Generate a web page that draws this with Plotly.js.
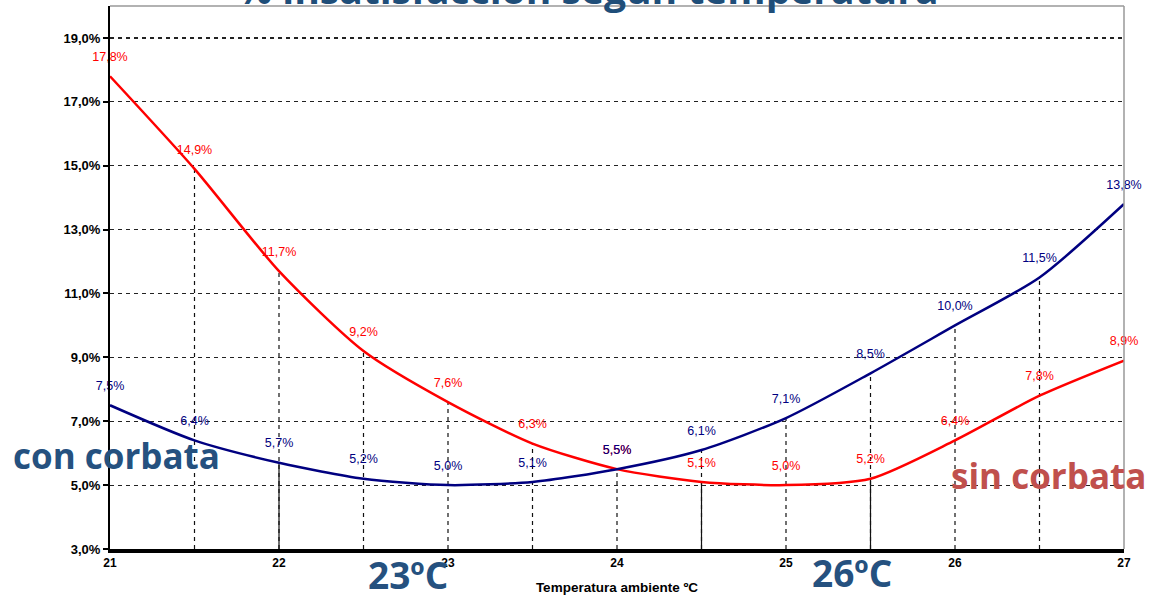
<!DOCTYPE html>
<html>
<head>
<meta charset="utf-8">
<script src="https://cdn.plot.ly/plotly-3.0.1.min.js"></script>
<style>html,body{margin:0;padding:0;background:#fff;}#chart{width:1153px;height:599px;}</style>
</head>
<body>
<div id="chart"></div>
<script>
// Data
var temperaturas = [21, 21.5, 22, 22.5, 23, 23.5, 24, 24.5, 25, 25.5, 26, 26.5, 27];
var sinCorbata   = [17.8, 14.9, 11.7, 9.2, 7.6, 6.3, 5.5, 5.1, 5.0, 5.2, 6.4, 7.8, 8.9];
var conCorbata   = [7.5, 6.4, 5.7, 5.2, 5.0, 5.1, 5.5, 6.1, 7.1, 8.5, 10.0, 11.5, 13.8];
var yTickVals    = [3, 5, 7, 9, 11, 13, 15, 17, 19];
var yTickText    = ["3,0%", "5,0%", "7,0%", "9,0%", "11,0%", "13,0%", "15,0%", "17,0%", "19,0%"];
var xTickVals    = [21, 22, 23, 24, 25, 26, 27];
var solidDropX   = [22, 24.5, 25.5];

function fmt(v) { return v.toFixed(1).replace('.', ',') + '%'; }

var L = 110, R = 1124, T = 6, B = 549;
function px(x) { return (x - L) / (R - L); }
function py(y) { return (B - y) / (B - T); }

var labelFont = 'Liberation Sans, Arial, sans-serif';
var traces = [
  {
    x: temperaturas, y: sinCorbata, mode: 'lines+markers+text', type: 'scatter',
    line: {color: '#FF0000', width: 2.5, shape: 'spline', smoothing: 0.7},
    text: sinCorbata.map(fmt), textposition: 'top center',
    textfont: {family: labelFont, size: 12.5, color: '#FF0000'},
    marker: {size: 18, opacity: 0, color: '#FF0000'}, cliponaxis: false, hoverinfo: 'x+y', showlegend: false
  },
  {
    x: temperaturas, y: conCorbata, mode: 'lines+markers+text', type: 'scatter',
    line: {color: '#000080', width: 2.5, shape: 'spline', smoothing: 0.7},
    text: conCorbata.map(fmt), textposition: 'top center',
    textfont: {family: labelFont, size: 12.5, color: '#000080'},
    marker: {size: 18, opacity: 0, color: '#000080'}, cliponaxis: false, hoverinfo: 'x+y', showlegend: false
  }
];

var shapes = [];
for (var i = 1; i < temperaturas.length - 1; i++) {
  var hi = Math.max(sinCorbata[i], conCorbata[i]);
  shapes.push({type: 'line', xref: 'x', yref: 'y', x0: temperaturas[i], x1: temperaturas[i], y0: 3, y1: hi,
    line: {color: '#111', width: 1.2, dash: '4px,4px'}, layer: 'below'});
  if (solidDropX.indexOf(temperaturas[i]) >= 0) {
    var lo = Math.min(sinCorbata[i], conCorbata[i]);
    shapes.push({type: 'line', xref: 'x', yref: 'y', x0: temperaturas[i], x1: temperaturas[i], y0: 3, y1: lo,
      line: {color: '#111', width: 1.2}, layer: 'below'});
  }
}
// frame: top and right light grey lines
shapes.push({type: 'line', xref: 'paper', yref: 'paper', x0: 0, x1: 1, y0: 1, y1: 1, line: {color: '#999', width: 1.5}});
shapes.push({type: 'line', xref: 'paper', yref: 'paper', x0: 1, x1: 1, y0: 0, y1: 1, line: {color: '#999', width: 1.5}});

var bigFont = 'Open Sans, Noto Sans, sans-serif';
var annotations = [
  {text: '% insatisfacción según temperatura', xref: 'paper', yref: 'paper', x: px(587), y: py(-12),
   showarrow: false, xanchor: 'center', yanchor: 'middle',
   font: {family: bigFont, size: 39, color: '#1F4E79', weight: 'bold'}},
  {text: 'con corbata', xref: 'paper', yref: 'paper', x: px(116), y: py(455), showarrow: false,
   xanchor: 'center', yanchor: 'middle', font: {family: bigFont, size: 35, color: '#25517F', weight: 'bold'}},
  {text: 'sin corbata', xref: 'paper', yref: 'paper', x: px(1048), y: py(475), showarrow: false,
   xanchor: 'center', yanchor: 'middle', font: {family: bigFont, size: 35, color: '#C0504D', weight: 'bold'}},
  {text: '23ºC', xref: 'paper', yref: 'paper', x: px(408), y: py(574), showarrow: false,
   xanchor: 'center', yanchor: 'middle', font: {family: bigFont, size: 37, color: '#25517F', weight: 'bold'}},
  {text: '26ºC', xref: 'paper', yref: 'paper', x: px(852), y: py(573), showarrow: false,
   xanchor: 'center', yanchor: 'middle', font: {family: bigFont, size: 37, color: '#25517F', weight: 'bold'}}
];

var layout = {
  width: 1153, height: 599,
  margin: {l: L, r: 1153 - R, t: T, b: 599 - B},
  paper_bgcolor: '#fff', plot_bgcolor: '#fff',
  showlegend: false,
  xaxis: {
    range: [21, 27], tickvals: xTickVals, ticktext: xTickVals.map(String),
    showgrid: false, zeroline: false, showline: true, linecolor: '#000', linewidth: 4,
    ticks: '', tickfont: {family: labelFont, size: 12, color: '#000', weight: 'bold'},
    title: {text: 'Temperatura ambiente ºC', standoff: 14,
      font: {family: labelFont, size: 13.5, color: '#000', weight: 'bold'}}
  },
  yaxis: {
    range: [3, 20], tickvals: yTickVals, ticktext: yTickText,
    showgrid: true, gridcolor: '#222', gridwidth: 1.2, griddash: '4px,4px',
    zeroline: false, showline: true, linecolor: '#000', linewidth: 2,
    ticks: 'outside', ticklen: 5, tickcolor: '#000', tickwidth: 2,
    tickfont: {family: labelFont, size: 13, color: '#000', weight: 'bold'}
  },
  shapes: shapes,
  annotations: annotations
};

Plotly.newPlot('chart', traces, layout, {displayModeBar: false, staticPlot: true});
</script>
</body>
</html>
